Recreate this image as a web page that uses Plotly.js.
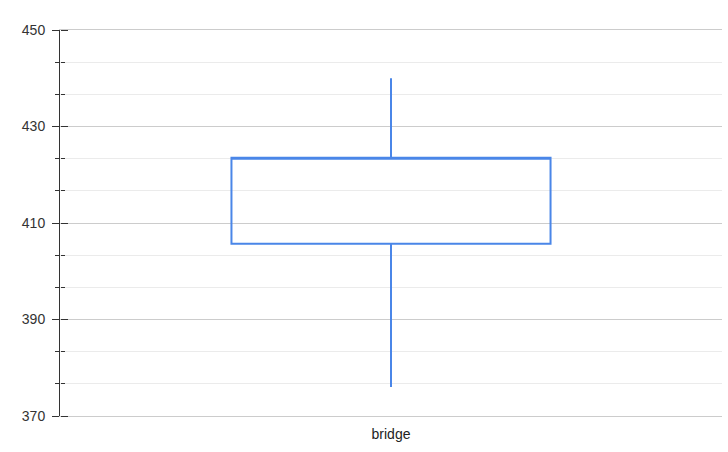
<!DOCTYPE html>
<html>
<head>
<meta charset="utf-8">
<script src="https://cdn.plot.ly/plotly-3.0.1.min.js"></script>
<style>html,body{margin:0;padding:0;background:#fff;}#chart{width:728px;height:452px;}</style>
</head>
<body>
<div id="chart"></div>
<script>
var categories = ['bridge'];
var lowValues = [376];
var q1Values = [405.7];
var q3Values = [423.5];
var highValues = [440];

var trace = {
  type: 'box',
  x: categories,
  lowerfence: lowValues,
  q1: q1Values,
  median: q3Values,
  q3: q3Values,
  upperfence: highValues,
  width: 0.482,
  whiskerwidth: 0,
  fillcolor: 'rgba(255,255,255,0)',
  line: {color: '#4a86e8', width: 2},
  boxpoints: false,
  hoverinfo: 'none',
  showlegend: false
};
var ghost = {type: 'scatter', mode: 'markers', x: categories, y: [410], yaxis: 'y2',
  marker: {opacity: 0, size: 1}, showlegend: false, hoverinfo: 'none'};

var layout = {
  width: 728, height: 452,
  margin: {l: 60, r: 6, t: 30, b: 36},
  paper_bgcolor: '#fff', plot_bgcolor: '#fff',
  font: {family: 'Arial, "Liberation Sans", sans-serif', size: 14, color: '#333'},
  showlegend: false,
  xaxis: {
    type: 'category', range: [-0.5, 0.5], fixedrange: true,
    showline: true, linecolor: '#cccccc', linewidth: 1, mirror: true,
    showgrid: false, zeroline: false, ticks: '',
    ticklabelstandoff: 5,
    tickfont: {size: 14, color: '#222'}
  },
  yaxis: {
    range: [370, 450], tick0: 370, dtick: 20, fixedrange: true,
    showline: true, linecolor: '#333', linewidth: 1,
    ticks: 'outside', ticklen: 7, tickcolor: '#333', tickwidth: 1,
    gridcolor: '#cccccc', gridwidth: 1, zeroline: false,
    ticklabelstandoff: 4,
    tickfont: {size: 14, color: '#333'},
    minor: {tick0: 370, dtick: 20/3, ticks: 'outside', ticklen: 4, tickcolor: '#333', showgrid: true, gridcolor: '#ebebeb', gridwidth: 1}
  },
  yaxis2: {
    overlaying: 'y', side: 'right', anchor: 'free', position: 0,
    range: [370, 450], tick0: 370, dtick: 20, fixedrange: true,
    showline: false, showgrid: false, zeroline: false, showticklabels: false,
    ticks: 'outside', ticklen: 7, tickcolor: '#333', tickwidth: 1,
    minor: {tick0: 370, dtick: 20/3, ticks: 'outside', ticklen: 4, tickcolor: '#333', showgrid: false}
  }
};
Plotly.newPlot('chart', [trace, ghost], layout, {staticPlot: true, displayModeBar: false});
</script>
</body>
</html>
